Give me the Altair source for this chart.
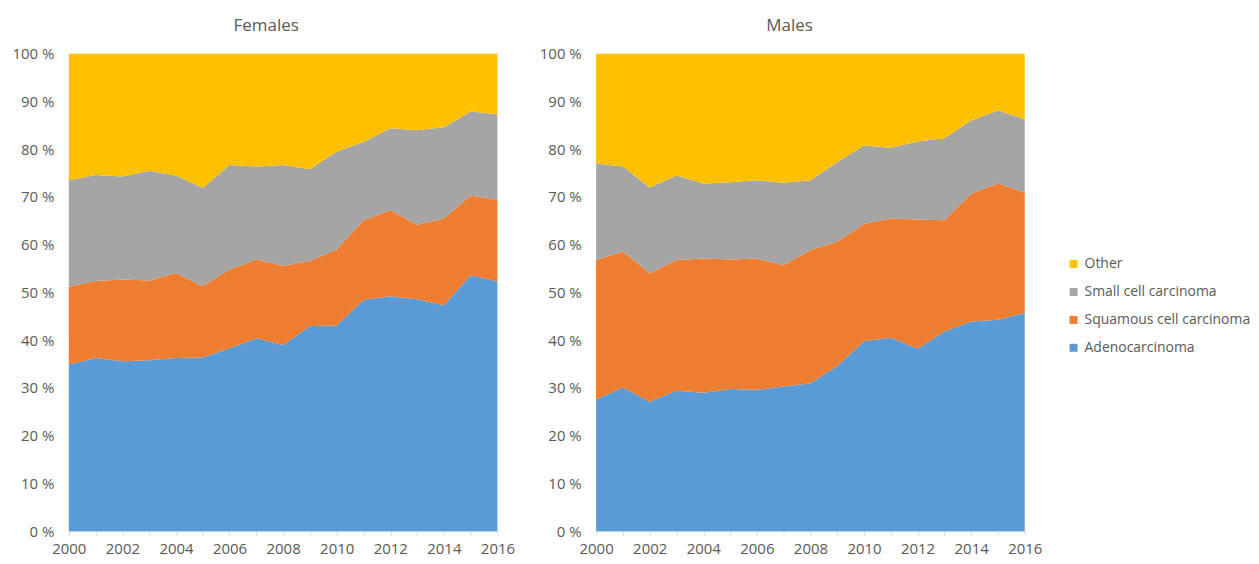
import altair as alt
import pandas as pd

years = list(range(2000, 2017))
tick_years = list(range(2000, 2017))
y_ticks = list(range(0, 101, 10))

stack_order = ["Adenocarcinoma", "Squamous cell carcinoma", "Small cell carcinoma", "Other"]
legend_order = ["Other", "Small cell carcinoma", "Squamous cell carcinoma", "Adenocarcinoma"]
legend_colors = ["#FFC000", "#A5A5A5", "#ED7D31", "#5B9BD5"]

# Females (percent of cases)
f_adeno = [34.9, 36.3, 35.6, 35.8, 36.3, 36.4, 38.3, 40.4, 39.0, 43.0, 43.1, 48.4, 49.2, 48.6, 47.3, 53.6, 52.3]
f_squamous = [16.3, 16.1, 17.1, 16.7, 17.8, 14.9, 16.5, 16.5, 16.6, 13.6, 15.9, 16.7, 18.0, 15.6, 18.2, 16.7, 17.1]
f_small = [22.3, 22.2, 21.6, 23.0, 20.4, 20.6, 21.9, 19.5, 21.1, 19.2, 20.5, 16.4, 17.2, 19.8, 19.1, 17.6, 17.9]
f_other = [26.5, 25.4, 25.7, 24.5, 25.5, 28.1, 23.3, 23.6, 23.3, 24.2, 20.5, 18.5, 15.6, 16.0, 15.4, 12.1, 12.7]

# Males (percent of cases)
m_adeno = [27.6, 30.1, 27.1, 29.4, 29.0, 29.8, 29.6, 30.3, 31.0, 34.6, 39.8, 40.5, 38.2, 41.8, 43.9, 44.3, 45.7]
m_squamous = [29.2, 28.5, 26.9, 27.4, 28.1, 27.1, 27.5, 25.4, 27.9, 26.0, 24.6, 25.0, 27.1, 23.3, 26.8, 28.6, 25.2]
m_small = [20.2, 17.8, 18.0, 17.7, 15.7, 16.2, 16.4, 17.3, 14.6, 16.7, 16.4, 14.8, 16.3, 17.2, 15.3, 15.2, 15.4]
m_other = [23.0, 23.6, 28.0, 25.5, 27.2, 26.9, 26.5, 27.0, 26.5, 22.7, 19.2, 19.7, 18.4, 17.7, 14.0, 11.9, 13.7]


def long_df(series):
    rows = []
    for rank, (name, vals) in enumerate(zip(stack_order, series)):
        for yr, v in zip(years, vals):
            rows.append({"year": yr, "type": name, "value": v, "rank": rank})
    return pd.DataFrame(rows)


df_f = long_df([f_adeno, f_squamous, f_small, f_other])
df_m = long_df([m_adeno, m_squamous, m_small, m_other])

FONT = "Open Sans"
LABEL_COLOR = "#595959"


def panel(df, title, dx):
    return alt.Chart(
        df,
        title=alt.TitleParams(
            title, fontSize=17, font=FONT, fontWeight="normal", color=LABEL_COLOR,
            anchor="middle", offset=12, dx=dx,
        ),
    ).mark_area(interpolate="linear").encode(
        x=alt.X(
            "year:Q",
            scale=alt.Scale(domain=[2000, 2016], nice=False, zero=False),
            axis=alt.Axis(
                values=tick_years,
                labelExpr="datum.value % 2 == 0 ? '' + datum.value : ''",
                title=None, grid=False, domain=True, domainColor="#D9D9D9",
                ticks=True, tickColor="#D9D9D9", tickSize=4,
                labelPadding=6, labelFont=FONT, labelFontSize=15, labelColor=LABEL_COLOR,
                labelFlush=False, labelOverlap=False,
            ),
        ),
        y=alt.Y(
            "value:Q",
            stack="zero",
            scale=alt.Scale(domain=[0, 100], nice=False),
            axis=alt.Axis(
                values=y_ticks,
                labelExpr="datum.value + ' %'",
                title=None, grid=False, domain=False, ticks=False, tickSize=0,
                labelPadding=15, labelFont=FONT, labelFontSize=15, labelColor=LABEL_COLOR,
                labelOverlap=False,
            ),
        ),
        color=alt.Color(
            "type:N",
            scale=alt.Scale(domain=legend_order, range=legend_colors),
            legend=alt.Legend(
                title=None, orient="none", legendX=1001, legendY=204,
                symbolType="square", symbolSize=64, symbolStrokeWidth=0,
                labelFont=FONT, labelFontSize=14, labelColor=LABEL_COLOR,
                labelLimit=260, rowPadding=14, labelOffset=4, padding=0,
            ),
        ),
        order=alt.Order("rank:Q", sort="ascending"),
    ).properties(width=430, height=479)


chart = alt.hconcat(
    panel(df_f, "Females", -17),
    panel(df_m, "Males", -21),
    spacing=23,
).properties(
    padding={"left": 3, "top": 8, "right": 0, "bottom": 0},
    background="white",
).configure_view(stroke=None)

chart.save("out.html", embed_options={"renderer": "svg", "actions": False})
